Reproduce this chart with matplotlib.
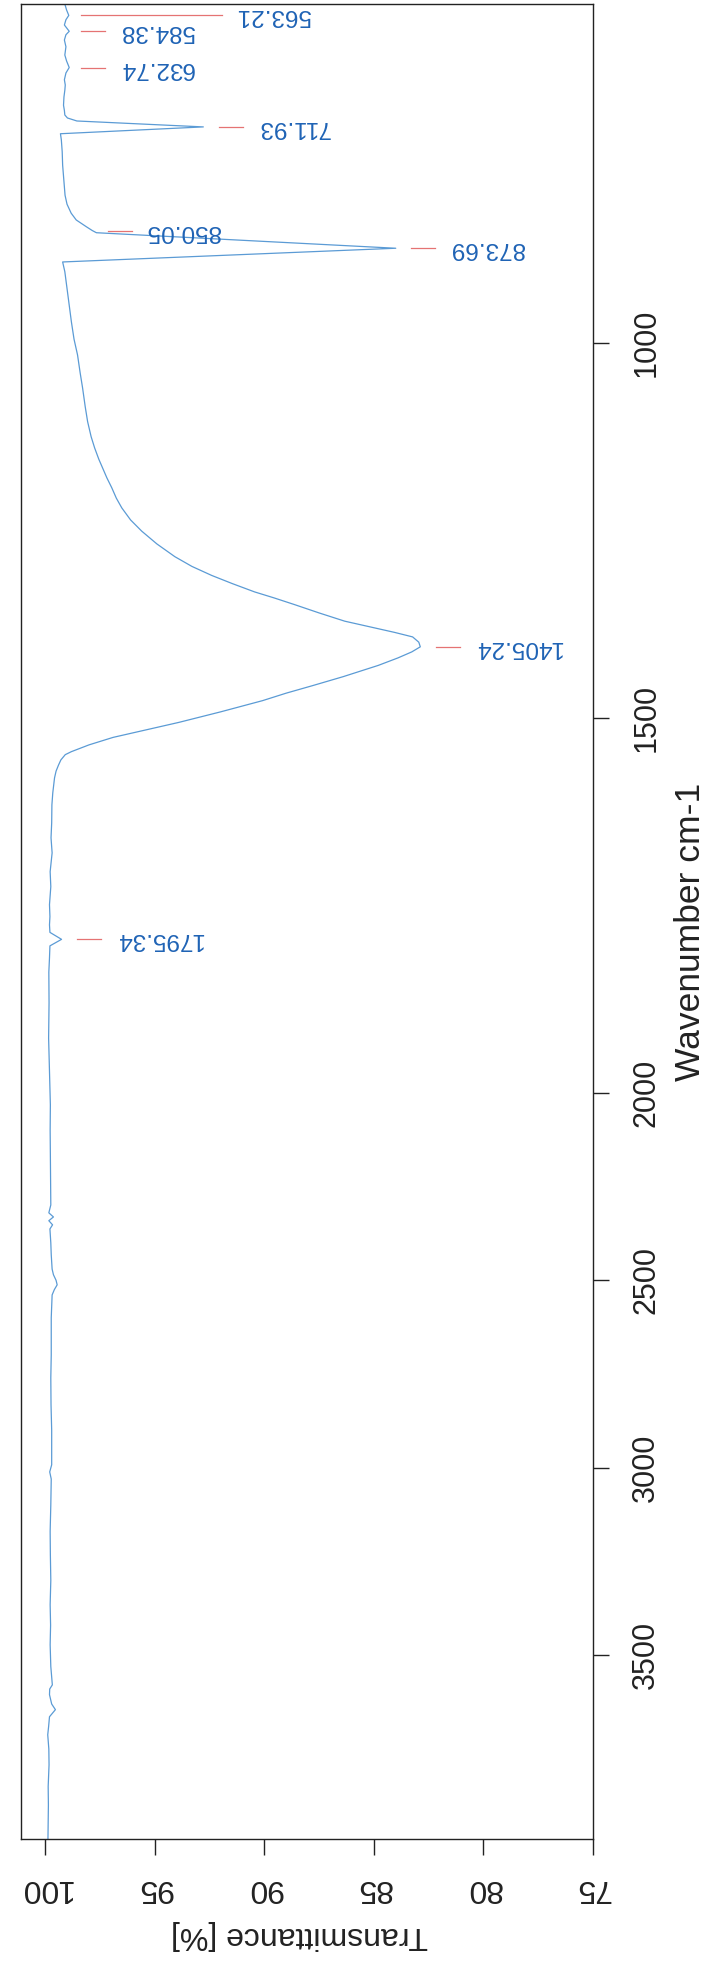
import numpy as np
import matplotlib
matplotlib.use("Agg")
import matplotlib.pyplot as plt

plt.rcParams["font.family"] = ["Liberation Sans", "DejaVu Sans"]

# IR spectrum: wavenumber (cm-1) and transmittance (%)
wavenumber = [
    548, 556, 563.2, 569, 576, 584.4, 589, 596, 605, 616, 624, 632.7, 640, 649,
    656, 663, 672, 683, 690, 696, 700, 704, 711.9, 721, 729, 745, 763, 785, 803,
    815, 827, 836, 845, 850.05, 853, 873.7, 892, 905, 927, 950, 972, 995, 1016,
    1040, 1060, 1085, 1105, 1125, 1140, 1155, 1167, 1180, 1193, 1207, 1220, 1236,
    1251, 1268, 1285, 1298, 1310, 1321, 1332, 1340, 1349, 1360, 1371, 1386, 1392,
    1399, 1405.2, 1412, 1420, 1430, 1445, 1457, 1467, 1477, 1492, 1506, 1516,
    1526, 1536, 1545, 1549, 1556, 1563, 1571, 1580, 1600, 1616, 1640, 1660, 1680,
    1705, 1725, 1749, 1765, 1776, 1786, 1795.3, 1804, 1820, 1839, 1880, 1927,
    1970, 2032, 2100, 2165, 2230, 2299, 2320, 2331, 2341, 2352, 2363, 2400, 2432,
    2470, 2485, 2500, 2512, 2525, 2539, 2600, 2699, 2760, 2832, 2900, 2992, 3011,
    3030, 3099, 3170, 3232, 3300, 3365, 3420, 3472, 3530, 3579, 3590, 3605, 3630,
    3645, 3664, 3690, 3712, 3750, 3792, 3850, 3899, 3950, 3990,
]
transmittance = [
    99.10, 99.02, 98.92, 99.05, 99.12, 98.90, 99.05, 99.12, 99.05, 99.10, 99.02,
    98.90, 99.05, 99.12, 99.08, 99.10, 99.14, 99.16, 99.12, 99.10, 98.98, 98.55,
    92.78, 99.30, 99.26, 99.22, 99.20, 99.14, 99.09, 99.00, 98.81, 98.58, 98.12,
    97.85, 97.66, 84.00, 99.20, 99.10, 99.00, 98.90, 98.80, 98.68, 98.52, 98.40,
    98.29, 98.17, 98.06, 97.90, 97.74, 97.55, 97.37, 97.18, 96.96, 96.75, 96.50,
    96.10, 95.59, 94.90, 94.08, 93.30, 92.40, 91.45, 90.44, 89.55, 88.61, 87.50,
    86.33, 84.05, 83.23, 82.95, 82.88, 83.27, 83.90, 84.80, 86.40, 87.80, 89.00,
    90.08, 92.00, 93.90, 95.40, 96.90, 98.00, 98.80, 99.08, 99.28, 99.39, 99.50,
    99.57, 99.65, 99.69, 99.70, 99.73, 99.68, 99.77, 99.74, 99.80, 99.78, 99.80,
    99.78, 99.25, 99.78, 99.80, 99.83, 99.82, 99.84, 99.80, 99.76, 99.77, 99.76,
    99.75, 99.74, 99.83, 99.62, 99.83, 99.66, 99.78, 99.74, 99.72, 99.68, 99.62,
    99.50, 99.45, 99.58, 99.68, 99.72, 99.72, 99.74, 99.73, 99.70, 99.70, 99.79,
    99.72, 99.74, 99.77, 99.76, 99.74, 99.77, 99.75, 99.77, 99.74, 99.67, 99.79,
    99.80, 99.70, 99.53, 99.80, 99.84, 99.88, 99.83, 99.82, 99.86, 99.85, 99.86,
    99.87,
]

# Picked bands: position and transmittance at the band
peak_wn = [563.21, 584.38, 632.74, 711.93, 850.05, 873.69, 1405.24, 1795.34]
peak_t = [99.05, 99.05, 99.05, 92.78, 97.85, 84.00, 82.88, 99.25]

t_ticks = [100, 95, 90, 85, 80, 75]
wn_ticks = [1000, 1500, 2000, 2500, 3000, 3500]


# wavenumber axis is compressed by a factor of two above 2000 cm-1
def fwd(w):
    w = np.asarray(w, dtype=float)
    return np.where(w <= 2000, w, 2000 + (w - 2000) / 2.0)


def inv(v):
    v = np.asarray(v, dtype=float)
    return np.where(v <= 2000, v, 2000 + (v - 2000) * 2.0)


W, H = 712, 1961
fig = plt.figure(figsize=(W / 100, H / 100), dpi=100)
ax = fig.add_axes([21 / W, (H - 1839) / H, 572 / W, 1835 / H])
ax.set_yscale("function", functions=(fwd, inv))

ax.plot(transmittance, wavenumber, color="#5b9bd5", lw=0.9)

ax.set_xlim(101.1, 75)
ax.set_ylim(3990, 548)

label_color = "#1f63b5"
dash_color = "#e57373"
for wn, tp in zip(peak_wn, peak_t):
    d0 = tp - 0.7
    d1 = d0 - (6.4 if wn < 570 else 1.1)
    ax.plot([d0, d1], [wn, wn], color=dash_color, lw=0.9)
    ax.text(d1 - 0.65, wn, f"{wn:.2f}", rotation=180, ha="left", va="center",
            color=label_color, fontsize=17.5, clip_on=False)

for sp in ax.spines.values():
    sp.set_linewidth(1.0)
    sp.set_color("#222222")

ax.set_xticks(t_ticks)
ax.set_xticklabels([str(t) for t in t_ticks])
ax.tick_params(axis="x", direction="out", length=11.5, width=1.0,
               labelsize=23, pad=13, labelrotation=180, colors="#222222")

ax.yaxis.tick_right()
ax.set_yticks(wn_ticks)
ax.set_yticklabels([str(w) for w in wn_ticks])
ax.tick_params(axis="y", direction="out", length=11.5, width=1.0,
               labelsize=22, pad=16, labelrotation=90, colors="#222222")
ax.minorticks_off()
for lbl in ax.get_yticklabels():
    lbl.set_va("center")

fig.text(299 / W, 1 - 1935 / H, "Transmittance [%]", rotation=180,
         ha="center", va="center", fontsize=23, color="#222222")
fig.text(690 / W, 1 - 932 / H, "Wavenumber cm-1", rotation=90,
         ha="center", va="center", fontsize=25.5, color="#222222")

fig.savefig("out.png", dpi=100, facecolor="white")
